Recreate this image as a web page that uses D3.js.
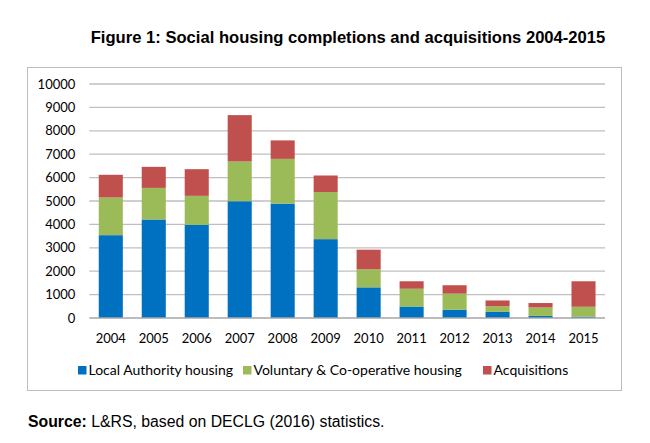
<!DOCTYPE html>
<html>
<head>
<meta charset="utf-8">
<script src="https://cdn.jsdelivr.net/npm/d3@7"></script>
<style>
  html, body { margin: 0; padding: 0; background: #fff; }
  svg { display: block; }
</style>
</head>
<body>
<script>
const years = ["2004","2005","2006","2007","2008","2009","2010","2011","2012","2013","2014","2015"];
const seriesNames = ["Local Authority housing", "Voluntary & Co-operative housing", "Acquisitions"];
const localAuthority = [3540, 4210, 3980, 4990, 4890, 3370, 1310, 490, 350, 260, 90, 60];
const voluntaryCoop  = [1610, 1350, 1240, 1700, 1910, 2010, 770, 760, 690, 240, 360, 420];
const acquisitions   = [970, 900, 1140, 1980, 790, 710, 840, 320, 360, 250, 190, 1090];
const yTicks = [0,1000,2000,3000,4000,5000,6000,7000,8000,9000,10000];
const colors = ["#0070C0", "#9BBB59", "#C0504D"];

const W = 650, H = 443;
const svg = d3.select("body").append("svg").attr("width", W).attr("height", H);

const rows = years.map((y, i) => ({year: y, la: localAuthority[i], vc: voluntaryCoop[i], aq: acquisitions[i]}));
const stack = d3.stack().keys(["la","vc","aq"])(rows);

const x = d3.scaleBand().domain(years).range([89.3, 605]).paddingInner(0.44).paddingOuter(0.22);
const y = d3.scaleLinear().domain([0, 10000]).range([318, 84]);

// Title
svg.append("text")
  .attr("x", 348).attr("y", 43)
  .attr("text-anchor", "middle")
  .style("font-family", "'Liberation Sans', Arial, sans-serif")
  .style("font-weight", "bold").style("font-size", "16.6px").style("fill", "#000")
  .text("Figure 1: Social housing completions and acquisitions 2004-2015");

// Chart border
svg.append("rect").attr("x", 27.5).attr("y", 67.5).attr("width", 594).attr("height", 323)
  .attr("fill", "none").attr("stroke", "#bdbdbd").attr("stroke-width", 1);

// Gridlines
svg.append("g").selectAll("line").data(yTicks.filter(d => d > 0)).join("line")
  .attr("x1", 89.3).attr("x2", 605)
  .attr("y1", d => y(d)).attr("y2", d => y(d))
  .attr("stroke", "#bfbfbf").attr("stroke-width", 1.3);

// Y axis labels
const yAxis = d3.axisLeft(y).tickValues(yTicks).tickSize(0).tickPadding(14).tickFormat(d3.format("d"));
const ya = svg.append("g").attr("transform", "translate(89.3,0)").call(yAxis);
ya.select(".domain").remove();
ya.selectAll("text").style("font-family", "Lato, 'Open Sans', sans-serif").style("font-size", "13px").style("fill", "#000");

// Bars
svg.append("g").selectAll("g").data(stack).join("g")
  .attr("fill", (d, i) => colors[i])
  .selectAll("rect").data(d => d).join("rect")
  .attr("x", d => x(d.data.year))
  .attr("width", x.bandwidth())
  .attr("y", d => y(d[1]))
  .attr("height", d => y(d[0]) - y(d[1]));

// Baseline axis
const xAxis = d3.axisBottom(x).tickSize(0).tickPadding(16);
const xa = svg.append("g").attr("transform", "translate(0,318)").call(xAxis);
xa.select(".domain").attr("d", "M89.3,0H605").attr("stroke", "#a6a6a6").attr("stroke-width", 1.3);
xa.selectAll("text").style("font-family", "Lato, 'Open Sans', sans-serif").style("font-size", "13px").style("fill", "#000");

// Legend
const legendX = [78, 243, 483];
const legend = svg.append("g");
seriesNames.forEach((name, i) => {
  legend.append("rect").attr("x", legendX[i]).attr("y", 366).attr("width", 8.5).attr("height", 8.5).attr("fill", colors[i]);
  legend.append("text").attr("x", legendX[i] + 10.5).attr("y", 374.5)
    .style("font-family", "Lato, 'Open Sans', sans-serif").style("font-size", "14px").style("fill", "#000")
    .text(name);
});

// Source
const src = svg.append("text").attr("x", 28).attr("y", 427)
  .style("font-family", "'Liberation Sans', Arial, sans-serif").style("font-size", "15.8px").style("fill", "#000");
src.append("tspan").style("font-weight", "bold").text("Source:");
src.append("tspan").text(" L&RS, based on DECLG (2016) statistics.");
</script>
</body>
</html>
